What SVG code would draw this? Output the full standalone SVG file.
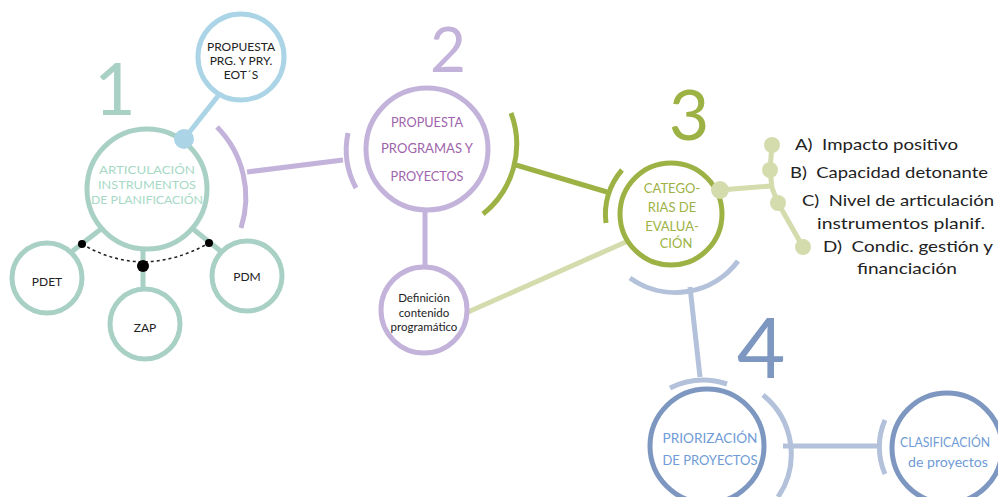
<svg xmlns="http://www.w3.org/2000/svg" width="998" height="497" viewBox="0 0 998 497">
<style>
text{font-family:Lato,"Open Sans","Liberation Sans",sans-serif}
.big{font-weight:400;text-anchor:middle}
.c{text-anchor:middle}
.ln{fill:none;stroke-width:5;stroke-linecap:butt}
.teal{stroke:#a9d0c4}
.pur{stroke:#c3b3db}
.grn{stroke:#9db244}
.lgr{stroke:#d4dcae}
.lbl{stroke:#b3c2da}
.dbl{stroke:#7d97c1}
.sky{stroke:#abd5e6}
.dk{fill:#222;font-size:12px}
.lab{fill:#222;font-size:16px}
</style>
<rect width="998" height="497" fill="#fff"/>
<g id="connectors">
<line class="ln sky" x1="184" y1="139" x2="218" y2="96"/>
<line class="ln teal" x1="101" y1="229" x2="70" y2="253"/>
<line class="ln teal" x1="143" y1="249" x2="143" y2="290"/>
<line class="ln teal" x1="193" y1="229" x2="223" y2="253"/>
<path d="M82,244 Q143,280 209,243" fill="none" stroke="#222" stroke-width="1.5" stroke-dasharray="3,3"/>
<path class="ln pur" d="M217,127 A100,100 0 0 1 241,228"/>
<line class="ln pur" x1="247" y1="172" x2="343" y2="160"/>
<path class="ln pur" d="M356,188 A81,81 0 0 1 348,133"/>
<line class="ln pur" x1="425" y1="210" x2="425" y2="268"/>
<path class="ln grn" d="M511,113 A89,89 0 0 1 483,214"/>
<line class="ln grn" x1="516" y1="165" x2="607" y2="192"/>
<path class="ln grn" d="M606,223 A67,67 0 0 1 622,170"/>
<line class="ln lgr" x1="468" y1="312" x2="628" y2="241"/>
<line class="ln lgr" x1="720" y1="190" x2="771" y2="186"/>
<polyline class="ln lgr" points="772,145 770,170 772,188 778,203 803,247"/>
<path class="ln lbl" d="M630,278 A78,78 0 0 0 738,261"/>
<line class="ln lbl" x1="690" y1="287" x2="700" y2="377"/>
<path class="ln lbl" d="M670,388 A76,76 0 0 1 727,384"/>
<path class="ln lbl" d="M763,395 A76,76 0 0 1 778,497"/>
<line class="ln lbl" x1="783" y1="446" x2="880" y2="446"/>
<path class="ln lbl" d="M885,474 A67,67 0 0 1 885,420"/>
<circle cx="82" cy="244" r="4" fill="#000"/>
<circle cx="143" cy="266" r="6" fill="#000"/>
<circle cx="209" cy="243" r="4" fill="#000"/>
</g>
<g id="n1">
<circle class="ln teal" cx="147" cy="189" r="60" fill="#fff"/>
<text class="c" x="147" y="174" font-size="12" fill="#a8d9c6" textLength="96" lengthAdjust="spacingAndGlyphs">ARTICULACIÓN</text>
<text class="c" x="147" y="189" font-size="12" fill="#a8d9c6" textLength="98" lengthAdjust="spacingAndGlyphs">INSTRUMENTOS</text>
<text class="c" x="147" y="204" font-size="12" fill="#a8d9c6" textLength="112" lengthAdjust="spacingAndGlyphs">DE PLANIFICACIÓN</text>
<circle cx="184" cy="139" r="10" fill="#abd5e6"/>
<text class="big" x="115" y="115" font-size="72" fill="#a9d0c4">1</text>
</g>
<g id="n-eot">
<circle class="ln sky" cx="241" cy="57" r="43" fill="#fff"/>
<text class="c dk" x="241" y="51">PROPUESTA</text>
<text class="c dk" x="241" y="65">PRG. Y PRY.</text>
<text class="c dk" x="241" y="79">EOT´S</text>
</g>
<g id="n-pdet">
<circle class="ln teal" cx="47" cy="278" r="35" fill="#fff"/>
<text class="c dk" x="47" y="286">PDET</text>
</g>
<g id="n-zap">
<circle class="ln teal" cx="145" cy="324" r="35" fill="#fff"/>
<text class="c dk" x="145" y="332">ZAP</text>
</g>
<g id="n-pdm">
<circle class="ln teal" cx="247" cy="276" r="35" fill="#fff"/>
<text class="c dk" x="247" y="281">PDM</text>
</g>
<g id="n2">
<circle class="ln pur" cx="427" cy="149" r="61" fill="#fff"/>
<text class="c" x="427" y="127" font-size="13" fill="#a064ac" textLength="72" lengthAdjust="spacingAndGlyphs">PROPUESTA</text>
<text class="c" x="427" y="153" font-size="13" fill="#a064ac" textLength="92" lengthAdjust="spacingAndGlyphs">PROGRAMAS  Y</text>
<text class="c" x="427" y="181" font-size="13" fill="#a064ac" textLength="73" lengthAdjust="spacingAndGlyphs">PROYECTOS</text>
<text class="big" x="448" y="72" font-size="62" fill="#c3b3db">2</text>
</g>
<g id="n-def">
<circle class="ln pur" cx="424" cy="310" r="43" fill="#fff"/>
<text class="c" x="424" y="302" font-size="11.5" fill="#222">Definición</text>
<text class="c" x="424" y="317" font-size="11.5" fill="#222">contenido</text>
<text class="c" x="424" y="331" font-size="11.5" fill="#222">programático</text>
</g>
<g id="n3">
<circle class="ln grn" cx="671" cy="214" r="51" fill="#fff"/>
<text class="c" x="672" y="193" font-size="13" fill="#9db244">CATEGO-</text>
<text class="c" x="672" y="212" font-size="13" fill="#9db244">RIAS DE</text>
<text class="c" x="672" y="231" font-size="13" fill="#9db244">EVALUA-</text>
<text class="c" x="676" y="248" font-size="13" fill="#9db244">CIÓN</text>
<circle cx="720" cy="190" r="9" fill="#d4dcae"/>
<text class="big" x="689" y="140" font-size="70" fill="#9db244">3</text>
</g>
<g id="criteria">
<circle cx="772" cy="145" r="8" fill="#d4dcae"/>
<circle cx="770" cy="170" r="8" fill="#d4dcae"/>
<circle cx="778" cy="203" r="8" fill="#d4dcae"/>
<circle cx="803" cy="247" r="8" fill="#d4dcae"/>
<text class="lab" x="795" y="150" textLength="163" lengthAdjust="spacingAndGlyphs" xml:space="preserve">A)  Impacto positivo</text>
<text class="lab" x="790" y="178" textLength="198" lengthAdjust="spacingAndGlyphs" xml:space="preserve">B)  Capacidad detonante</text>
<text class="lab" x="802" y="206" textLength="192" lengthAdjust="spacingAndGlyphs" xml:space="preserve">C)  Nivel de articulación</text>
<text class="lab" x="817" y="229" textLength="168" lengthAdjust="spacingAndGlyphs">instrumentos planif.</text>
<text class="lab" x="823" y="252" textLength="170" lengthAdjust="spacingAndGlyphs" xml:space="preserve">D)  Condic. gestión y</text>
<text class="lab" x="857" y="274" textLength="100" lengthAdjust="spacingAndGlyphs">financiación</text>
</g>
<g id="n4">
<circle class="ln dbl" cx="707" cy="446" r="57" fill="#fff"/>
<text class="c" x="710" y="443" font-size="14" fill="#6f9bd6" textLength="95" lengthAdjust="spacingAndGlyphs">PRIORIZACIÓN</text>
<text class="c" x="710" y="465" font-size="14" fill="#6f9bd6" textLength="95" lengthAdjust="spacingAndGlyphs">DE PROYECTOS</text>
<text class="big" x="761" y="378" font-size="84" fill="#7d97c1">4</text>
</g>
<g id="n-clas">
<circle class="ln dbl" cx="947" cy="448" r="55" fill="#fff"/>
<text class="c" x="945" y="447" font-size="13.5" fill="#6f9bd6" textLength="90" lengthAdjust="spacingAndGlyphs">CLASIFICACIÓN</text>
<text class="c" x="948" y="467" font-size="14" fill="#6f9bd6" textLength="80" lengthAdjust="spacingAndGlyphs">de proyectos</text>
</g>
</svg>
